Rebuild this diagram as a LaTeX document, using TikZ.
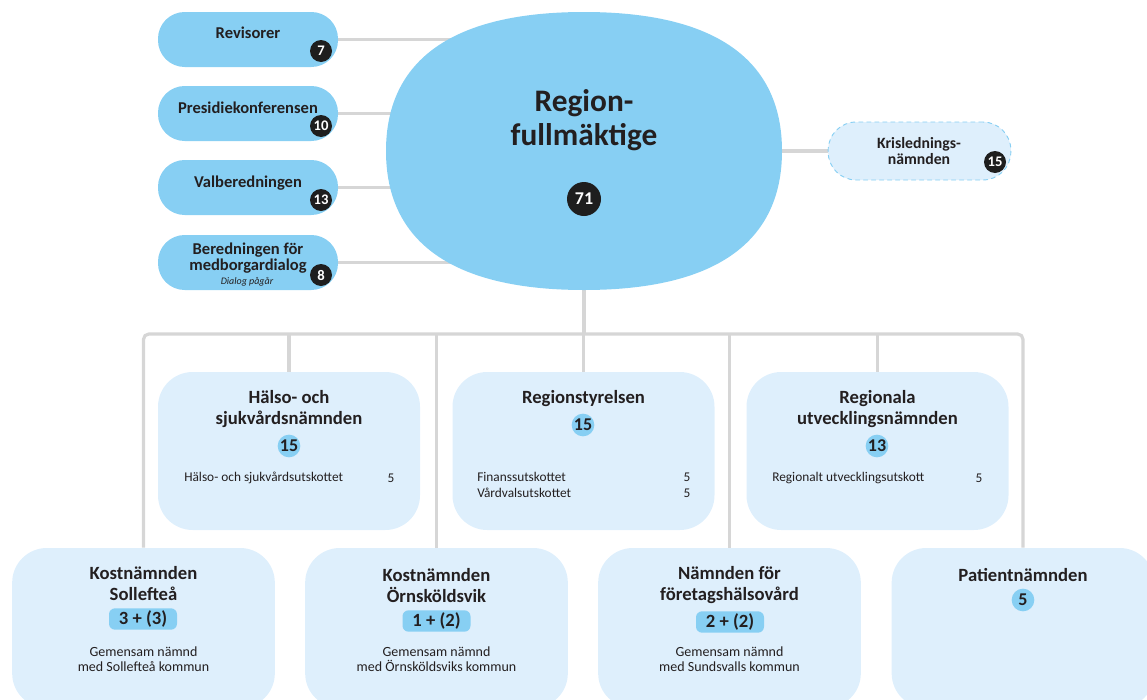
\documentclass[tikz,border=0pt]{standalone}
\usepackage{fontspec}
\setmainfont{Carlito}
\usetikzlibrary{calc}
\pgfdeclarelayer{bg}
\pgfsetlayers{bg,main}

\begin{document}
\begin{tikzpicture}[line cap=round,line join=round,x=0.75pt,y=-0.75pt,
  lnk/.style={draw=lngray,line width=2.4pt},
  pill/.style={fill=fmblue,minimum width=135pt,minimum height=41.25pt,rounded corners=20pt},
  nbox/.style={fill=nmfill,minimum width=196.5pt,minimum height=118.5pt,rounded corners=26pt},
  badge/.style={circle,fill=bdark,text=white,font=\bfseries\fontsize{11}{11}\selectfont,inner sep=0pt,minimum size=16.5pt},
  lbadge/.style={circle,fill=fmblue,text=txdark,font=\bfseries\fontsize{13.5}{13.5}\selectfont,inner sep=0pt,minimum size=17pt},
  cnt/.style={fill=fmblue,text=txdark,rounded corners=4.5pt,minimum width=51pt,minimum height=16pt,inner sep=0pt,font=\bfseries\fontsize{14}{14}\selectfont},
  ttl/.style={text=txdark,align=center,font=\bfseries\fontsize{14}{15.75}\selectfont},
  ptxt/.style={text=txdark,align=center,font=\bfseries\fontsize{12.4}{12}\selectfont},
  sml/.style={text=txdark,inner sep=0pt,font=\fontsize{10}{11.25}\selectfont}]
\definecolor{fmblue}{RGB}{135,207,243}
\definecolor{nmfill}{RGB}{222,239,252}
\definecolor{lngray}{RGB}{214,214,214}
\definecolor{txdark}{RGB}{35,31,32}
\definecolor{bdark}{RGB}{30,30,30}
\useasboundingbox (0,0) rectangle (1147,700);
\clip (0,0) rectangle (1147,700);

% fullmaktige
\fill[fmblue] (584,12) .. controls (714.7,12) and (782,59.3) .. (782,151)
  .. controls (782,242.7) and (714.7,290) .. (584,290)
  .. controls (453.3,290) and (386,242.7) .. (386,151)
  .. controls (386,59.3) and (453.3,12) .. cycle;
\node[minimum width=297pt,minimum height=208.5pt] (rf) at (584,151) {};
\node[text=txdark,align=center,font=\bfseries\fontsize{23.5}{26}\selectfont] (rf-t) at (584,120) {Region-\\fullmäktige};
\node[badge,minimum size=25.5pt,font=\bfseries\fontsize{13.5}{13.5}\selectfont] (rf-n) at (584,199) {71};

% left column
\node[pill] (rev) at (248,39.5) {};
\node[ptxt] (rev-t) at (248,33) {Revisorer};
\node[badge] (rev-n) at (321,51) {7};
\node[pill] (pres) at (248,113.5) {};
\node[ptxt] (pres-t) at (248,108) {Presidiekonferensen};
\node[badge] (pres-n) at (321,126) {10};
\node[pill] (val) at (248,187.5) {};
\node[ptxt] (val-t) at (248,183) {Valberedningen};
\node[badge] (val-n) at (321,200) {13};
\node[pill] (ber) at (248,262.5) {};
\node[ptxt,font=\bfseries\fontsize{12.4}{12}\selectfont] (ber-t) at (248,258) {Beredningen för\\medborgardialog};
\node[text=txdark,font=\itshape\fontsize{7.5}{7.5}\selectfont,inner sep=0pt] (ber-s) at (247,282) {Dialog pågår};
\node[badge] (ber-n) at (321,275) {8};

% krisledning
\node[fill=nmfill,draw=fmblue,dashed,line width=0.7pt,minimum width=137pt,minimum height=43.5pt,rounded corners=21pt] (kris) at (919.5,151) {};
\node[ptxt,font=\bfseries\fontsize{11.8}{12}\selectfont] (kris-t) at (919,151) {Krislednings-\\nämnden};
\node[badge] (kris-n) at (995,162) {15};

% middle row
\node[nbox] (hsn) at (289,451) {};
\node[ttl] (hsn-t) at (289,409.5) {Hälso- och\\sjukvårdsnämnden};
\node[lbadge] (hsn-n) at (289,446) {15};
\node[sml,anchor=west] (hsn-u) at (184,478) {Hälso- och sjukvårdsutskottet};
\node[sml] (hsn-u5) at (391,478) {5};

\node[nbox] (rs) at (583.5,451) {};
\node[ttl] (rs-t) at (583.5,399) {Regionstyrelsen};
\node[lbadge] (rs-n) at (583,425) {15};
\node[sml,anchor=west] (rs-u1) at (477,477) {Finanssutskottet};
\node[sml] (rs-u15) at (687,477) {5};
\node[sml,anchor=west] (rs-u2) at (477,493) {Vårdvalsutskottet};
\node[sml] (rs-u25) at (687,493) {5};

\node[nbox] (run) at (877.5,451) {};
\node[ttl] (run-t) at (877.5,409.5) {Regionala\\utvecklingsnämnden};
\node[lbadge] (run-n) at (877,446) {13};
\node[sml,anchor=west] (run-u) at (772,478) {Regionalt utvecklingsutskott};
\node[sml] (run-u5) at (979,478) {5};

% bottom row
\node[nbox,minimum width=197pt,minimum height=120pt] (kns) at (143.5,628) {};
\node[ttl] (kns-t) at (143.5,583.5) {Kostnämnden\\Sollefteå};
\node[cnt] (kns-n) at (143,619) {3 + (3)};
\node[sml,align=center,font=\fontsize{10.5}{11.25}\selectfont] (kns-s) at (143.5,659.5) {Gemensam nämnd\\med Sollefteå kommun};

\node[nbox,minimum width=197pt,minimum height=120pt] (kno) at (436.5,628) {};
\node[ttl] (kno-t) at (436.5,585.5) {Kostnämnden\\Örnsköldsvik};
\node[cnt] (kno-n) at (436.5,621) {1 + (2)};
\node[sml,align=center,font=\fontsize{10.5}{11.25}\selectfont] (kno-s) at (436.5,659.5) {Gemensam nämnd\\med Örnsköldsviks kommun};

\node[nbox,minimum width=197pt,minimum height=120pt] (nfh) at (729.5,628) {};
\node[ttl] (nfh-t) at (729.5,585.5) {Nämnden för\\företagshälsovård};
\node[cnt] (nfh-n) at (730,622) {2 + (2)};
\node[sml,align=center,font=\fontsize{10.5}{11.25}\selectfont] (nfh-s) at (729.5,659.5) {Gemensam nämnd\\med Sundsvalls kommun};

\node[nbox,minimum width=197pt,minimum height=120pt] (pat) at (1023,628) {};
\node[ttl] (pat-t) at (1023,575) {Patientnämnden};
\node[lbadge] (pat-n) at (1023,600) {5};

% connectors
\begin{pgfonlayer}{bg}
\foreach \b in {rev,pres,val,ber}
  \draw[lnk] (\b.east) -- (\b.east -| rf.center);
\draw[lnk] (rf.center) -- (kris.west);
\coordinate (bus) at (584,334);
\draw[lnk] (rf.south) -- (rf.south |- bus);
\draw[lnk,rounded corners=4pt] (kns.north) -- (kns.north |- bus) -- (pat.north |- bus) -- (pat.north);
\foreach \b in {hsn,kno,rs,nfh,run}
  \draw[lnk] (\b.north |- bus) -- (\b.north);
\end{pgfonlayer}
\end{tikzpicture}
\end{document}
